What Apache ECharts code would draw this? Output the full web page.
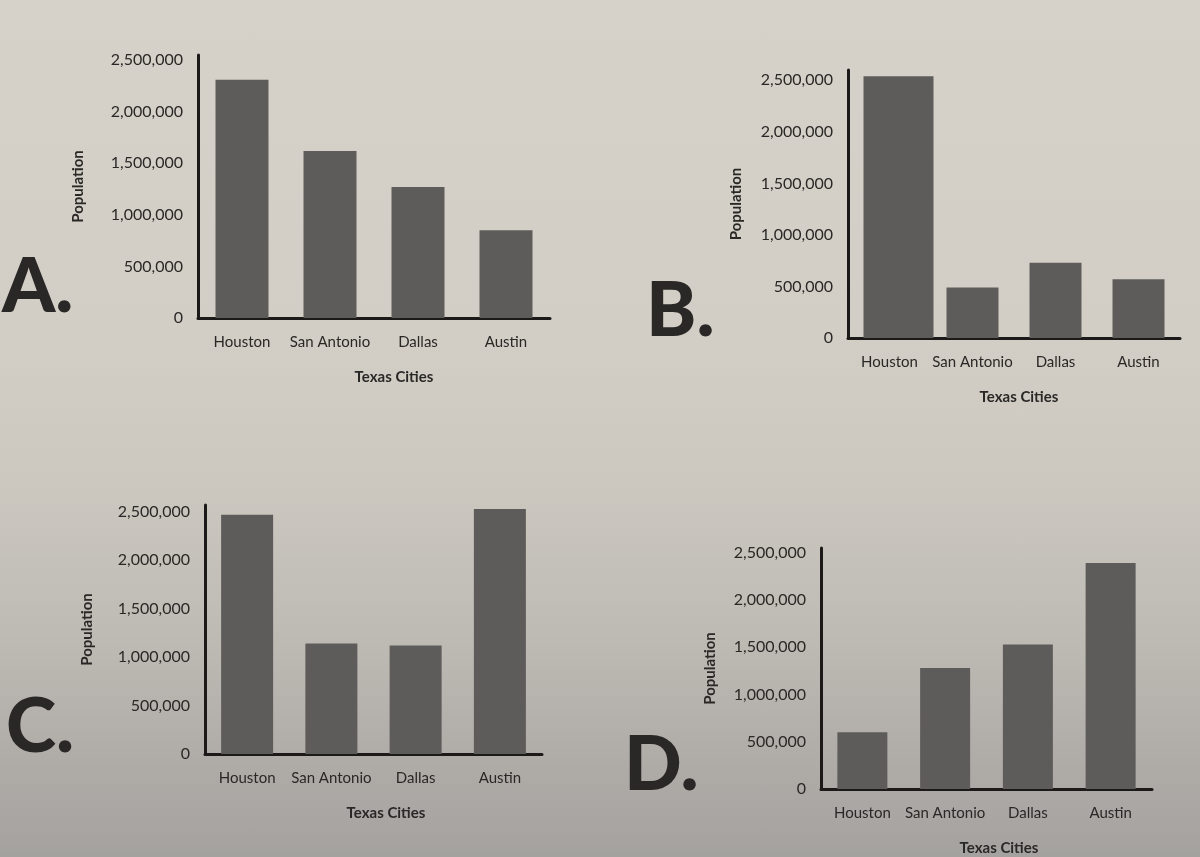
<!DOCTYPE html>
<html>
<head>
<meta charset="utf-8">
<script src="https://cdn.jsdelivr.net/npm/echarts@6/dist/echarts.min.js"></script>
<style>
  html, body { margin: 0; padding: 0; }
  body {
    width: 1200px; height: 857px; overflow: hidden;
    background: linear-gradient(to bottom, #d7d2c9 0%, #d3cec5 40%, #cbc7bf 58%, #bdbab4 75%, #aeaba7 90%, #a4a29f 100%);
  }
  #chart { width: 1200px; height: 857px; }
</style>
</head>
<body>
<div id="chart"></div>
<script>
// ---- data ----
const categories = ['Houston', 'San Antonio', 'Dallas', 'Austin'];
const popA = [2310000, 1620000, 1270000, 850000];
const popB = [2540000, 490000, 730000, 570000];
const popC = [2470000, 1140000, 1120000, 2530000];
const popD = [600000, 1280000, 1530000, 2390000];
const tickStep = 500000;
const panelLetters = ['A.', 'B.', 'C.', 'D.'];
const xTitle = 'Texas Cities';
const yTitle = 'Population';

// ---- styling / layout ----
const FONT = 'Lato, "Open Sans", sans-serif';
const TEXT = '#2a2826';
const BAR = '#5e5c5a';
const AXIS = '#1c1a19';

const panels = [
  { data: popA, grid: { left: 198, top: 55, width: 352, height: 263 }, max: 2550000, barWidth: 53, nameGap: 112, xPad: 40 },
  { data: popB, grid: { left: 848, top: 70, width: 332, height: 268 }, max: 2600000, barWidth: 52, nameGap: 104, xPad: 10 },
  { data: popC, grid: { left: 205, top: 505, width: 337, height: 249 }, max: 2570000, barWidth: 52, nameGap: 110, xPad: 25 },
  { data: popD, grid: { left: 821, top: 548, width: 331, height: 244 }, max: 2550000, barWidth: 50, nameGap: 103, xPad: 25 }
];
const letterPos = [[2, 294], [646, 318], [6, 734], [624, 772]];

const grids = [], xAxes = [], yAxes = [], series = [];
panels.forEach((p, i) => {
  grids.push(p.grid);
  xAxes.push({
    type: 'category', gridIndex: i, data: categories,
    axisLine: { show: true, lineStyle: { color: AXIS, width: 3 } },
    axisTick: { show: false },
    axisLabel: { interval: 0, color: TEXT, fontFamily: FONT, fontSize: 15, margin: 17 },
    name: xTitle, nameLocation: 'middle', nameGap: 52,
    nameTextStyle: { color: TEXT, fontFamily: FONT, fontSize: 15, fontWeight: 'bold', padding: [0, 0, 0, p.xPad] }
  });
  yAxes.push({
    type: 'value', gridIndex: i, min: 0, max: p.max, interval: tickStep,
    axisLine: { show: true, lineStyle: { color: AXIS, width: 3 } },
    axisTick: { show: false },
    splitLine: { show: false },
    axisLabel: {
      color: TEXT, fontFamily: FONT, fontSize: 16, margin: 15,
      formatter: v => (v % tickStep === 0 ? v.toLocaleString('en-US') : '')
    },
    name: yTitle, nameLocation: 'middle', nameRotate: 90, nameGap: p.nameGap,
    nameTextStyle: { color: TEXT, fontFamily: FONT, fontSize: 15, fontWeight: 'bold' }
  });
  if (i === 1) {
    // Houston bar in panel B is drawn wider than the others
    series.push({
      type: 'bar', xAxisIndex: i, yAxisIndex: i, barWidth: 70,
      data: p.data.map((v, k) => (k === 0 ? v : '-')),
      itemStyle: { color: BAR }
    });
    series.push({
      type: 'bar', xAxisIndex: i, yAxisIndex: i, barWidth: p.barWidth, barGap: '-100%',
      data: p.data.map((v, k) => (k === 0 ? '-' : v)),
      itemStyle: { color: BAR }
    });
  } else {
    series.push({
      type: 'bar', xAxisIndex: i, yAxisIndex: i, barWidth: p.barWidth,
      data: p.data, itemStyle: { color: BAR }
    });
  }
});

const graphics = panelLetters.map((t, i) => ({
  type: 'text', left: letterPos[i][0], top: letterPos[i][1] - 45,
  style: { text: t, fill: '#2a2826', font: '900 76px ' + FONT }
}));

const chart = echarts.init(document.getElementById('chart'), null, { renderer: 'canvas' });
chart.setOption({
  backgroundColor: 'transparent',
  animation: false,
  grid: grids, xAxis: xAxes, yAxis: yAxes, series: series,
  graphic: graphics
});
</script>
</body>
</html>
